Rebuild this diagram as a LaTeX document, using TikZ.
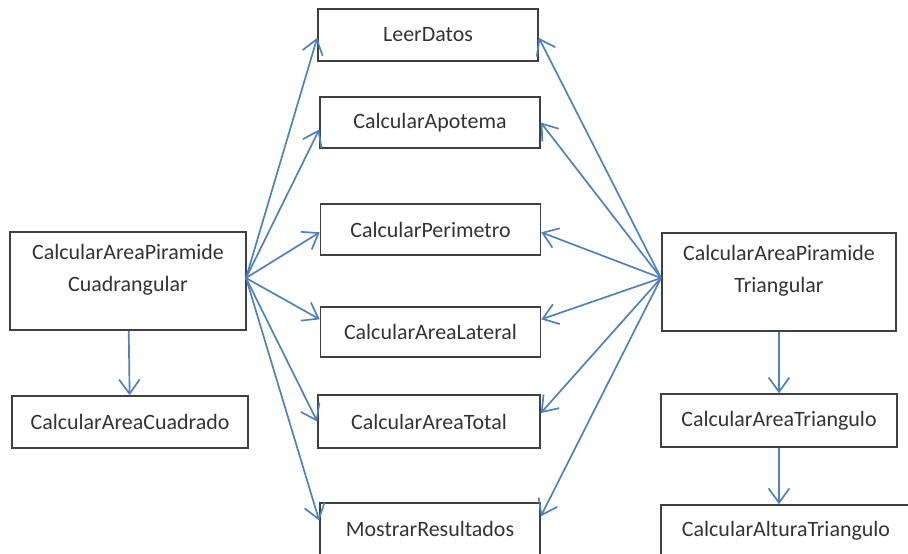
\documentclass[tikz,border=0pt]{standalone}
\usepackage{fontspec}
\setmainfont{Carlito}
\usetikzlibrary{arrows.meta}

\begin{document}
\begin{tikzpicture}[x=0.025cm, y=-0.025cm,
        modulo/.style={draw=black!75, line width=1.1pt, text=black!80, align=center,
            inner sep=0pt, font={\fontsize{15.6}{23}\selectfont}},
        llamada/.style={draw={rgb,255:red,79;green,129;blue,189}, line width=1.2pt,
            -{Straight Barb[length=3.6mm, width=5.2mm]}}]
        \useasboundingbox (0, 0) rectangle (908, 553);
        \clip (0, 0) rectangle (908, 553);

        % modulos principales
        \node[modulo, minimum width=5.9cm, minimum height=2.45cm] (piramideC) at (128, 281) {CalcularAreaPiramide\\Cuadrangular\\[-4pt]};
        \node[modulo, minimum width=5.85cm, minimum height=2.45cm] (piramideT) at (779, 282) {CalcularAreaPiramide\\Triangular\\[-4pt]};

        % modulos comunes
        \node[modulo, minimum width=5.5cm, minimum height=1.3cm] (leer) at (428, 35) {LeerDatos};
        \node[modulo, minimum width=5.5cm, minimum height=1.28cm] (apotema) at (430, 122.5) {CalcularApotema};
        \node[modulo, minimum width=5.5cm, minimum height=1.28cm] (perimetro) at (430.5, 229.5) {CalcularPerimetro};
        \node[modulo, minimum width=5.5cm, minimum height=1.25cm] (lateral) at (430.5, 332) {CalcularAreaLateral};
        \node[modulo, minimum width=5.55cm, minimum height=1.32cm] (total) at (429, 421.5) {CalcularAreaTotal};
        \node[modulo, minimum width=5.5cm, minimum height=1.3cm] (mostrar) at (430, 529) {MostrarResultados};

        % modulos propios
        \node[modulo, minimum width=5.9cm, minimum height=1.3cm] (cuadrado) at (130, 422) {CalcularAreaCuadrado};
        \node[modulo, minimum width=5.9cm, minimum height=1.32cm] (triangulo) at (779, 420.5) {CalcularAreaTriangulo};
        \node[modulo, minimum width=6.25cm, minimum height=1.3cm] (altura) at (786, 531) {CalcularAlturaTriangulo};

        \coordinate (hubC) at (246, 278);
        \coordinate (hubT) at (661, 278);

        \draw[llamada] (hubC) -- ([yshift=-2]leer.west);
        \draw[llamada] (hubC) -- ([yshift=-5]apotema.west);
        \draw[llamada] (hubC) -- ([yshift=-2]perimetro.west);
        \draw[llamada] (hubC) -- ([yshift=9]lateral.west);
        \draw[llamada] (hubC) -- (total.west);
        \draw[llamada] (hubC) -- ([yshift=6]mostrar.west);

        \draw[llamada] (hubT) -- ([yshift=-2]leer.east);
        \draw[llamada] (hubT) -- (apotema.east);
        \draw[llamada] (hubT) -- ([yshift=-2]perimetro.east);
        \draw[llamada] (hubT) -- ([yshift=9]lateral.east);
        \draw[llamada] (hubT) -- ([yshift=6]total.east);
        \draw[llamada] (hubT) -- ([yshift=9]mostrar.east);

        \draw[llamada] (piramideC) -- (cuadrado);
        \draw[llamada] (piramideT) -- (triangulo);
        \draw[llamada] (triangulo) -- (triangulo |- altura.north);
    \end{tikzpicture}
\end{document}
